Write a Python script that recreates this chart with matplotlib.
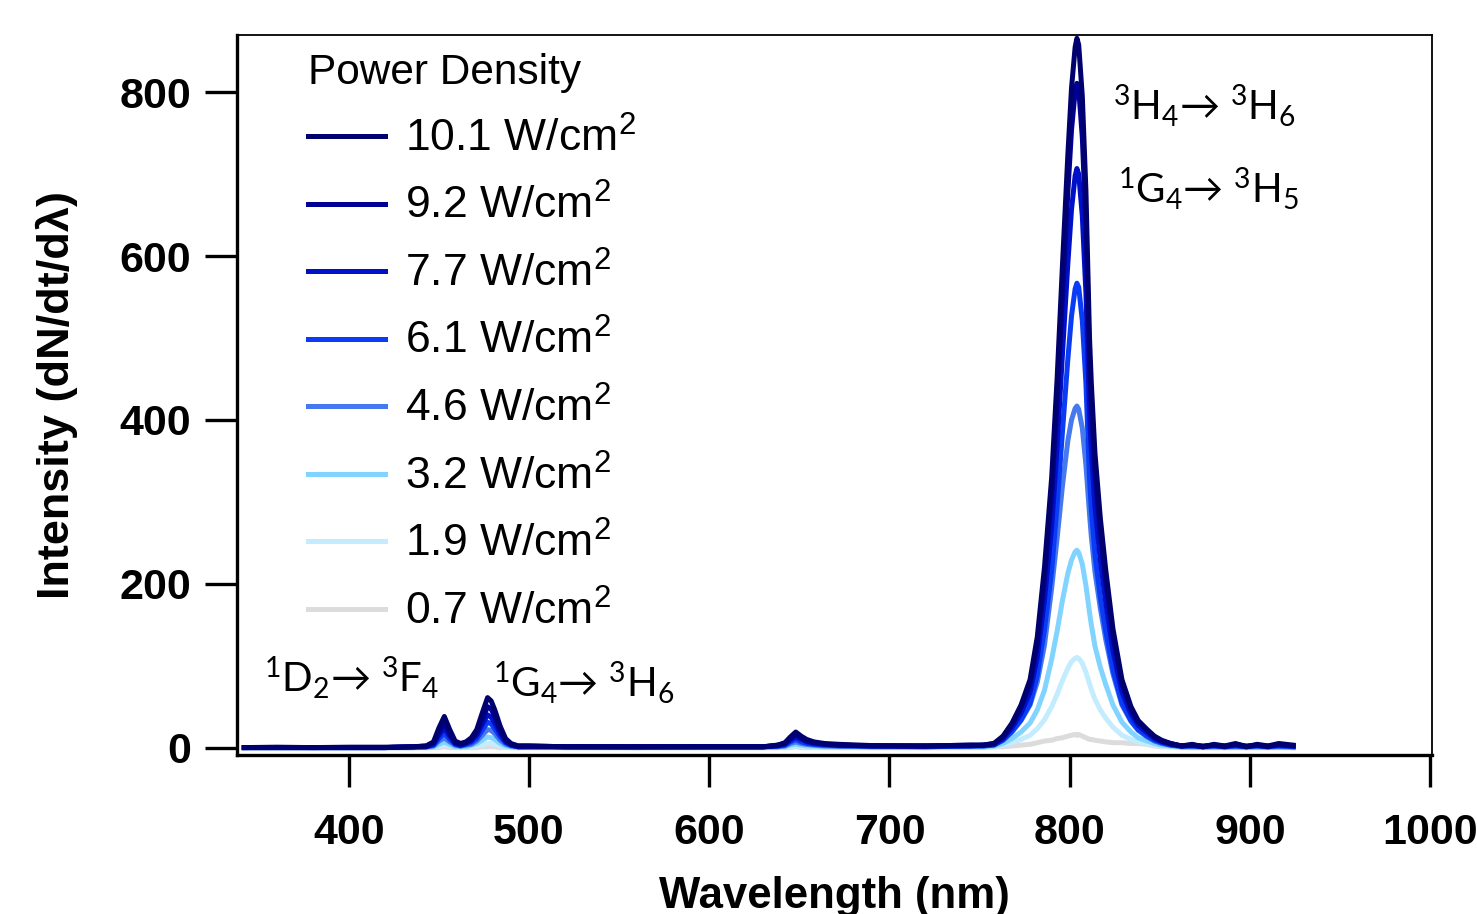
import matplotlib
matplotlib.use("Agg")
import matplotlib.pyplot as plt

plt.rcParams["font.family"] = ["Liberation Sans", "DejaVu Sans"]
plt.rcParams["mathtext.fontset"] = "custom"
plt.rcParams["mathtext.default"] = "regular"
plt.rcParams["mathtext.fallback"] = "stixsans"

# wavelength grid (nm)
wavelength = [
    342, 360, 380, 400, 420,
    436, 443, 447, 450, 453, 456, 459, 462, 465, 468, 471, 474, 477, 479, 481, 484, 487, 490, 494,
    500, 520, 560, 600, 630, 638, 642, 645, 648, 651, 654, 658, 664, 672, 690, 720, 745,
    752, 758, 763, 768, 773, 778, 782, 786, 790, 793, 796, 799, 801, 803, 804, 805, 807, 809,
    811, 812, 814, 817, 820, 824, 829, 834, 838, 843, 847, 851, 856, 862,
    868, 874, 880, 886, 892, 898, 904, 910, 916, 924,
]

i_10p1 = [
    0, 0.5, 0, 0.5, 0.5,
    1, 2, 7, 24, 38, 22, 8, 5, 7, 12, 22, 42, 61, 57, 46, 26, 11, 5, 2,
    2, 1, 1, 1, 1, 3, 6, 13, 19, 14, 10, 7, 5, 4, 2.5, 2, 3,
    3, 5, 14, 30, 52, 83, 135, 220, 330, 450, 590, 725, 805, 855, 866, 858, 795, 680,
    500, 445, 360, 280, 217, 145, 83, 50, 33, 22, 14, 9, 5, 2,
    4, 1, 4, 2, 5, 1, 4, 2, 5, 3,
]
i_9p2 = [
    0, 0, 0, 0, 0,
    1, 2, 6, 19, 30, 17, 6, 4, 6, 10, 18, 34, 50, 47, 38, 21, 9, 4, 2,
    2, 1, 1, 1, 1, 3, 5, 11, 16, 12, 8, 6, 4, 3, 2, 2, 3,
    3, 5, 13, 28, 49, 78, 126, 206, 309, 422, 553, 679, 754, 801, 811, 804, 745, 637,
    469, 417, 337, 262, 203, 136, 78, 47, 31, 21, 13, 8, 5, 2,
    3, 2, 3, 1, 4, 2, 3, 1, 4, 2,
]
i_7p7 = [
    0, 0, 0, 0, 0,
    1, 1, 4, 15, 24, 14, 5, 3, 5, 8, 15, 28, 40, 37, 30, 17, 7, 3, 1,
    1, 1, 1, 1, 1, 2, 4, 9, 13, 10, 7, 5, 4, 3, 2, 2, 2,
    3, 4, 11, 24, 42, 68, 110, 180, 269, 367, 481, 592, 657, 698, 707, 700, 649, 555,
    408, 363, 294, 228, 177, 118, 68, 41, 27, 18, 11, 7, 4, 2,
    3, 1, 3, 2, 3, 1, 3, 2, 3, 2,
]
i_6p1 = [
    0, 0, 0, 0, 0,
    1, 1, 3, 11, 18, 10, 4, 2, 4, 6, 11, 21, 31, 29, 23, 13, 6, 3, 1,
    1, 1, 1, 1, 1, 2, 3, 7, 10, 7, 5, 4, 3, 2, 2, 1, 2,
    2, 3, 9, 20, 34, 54, 88, 144, 216, 295, 386, 475, 527, 560, 567, 562, 521, 445,
    328, 291, 236, 183, 142, 95, 54, 33, 22, 14, 9, 6, 3, 2,
    2, 1, 2, 1, 2, 1, 2, 1, 2, 1,
]
i_4p6 = [
    0, 0, 0, 0, 0,
    0, 1, 2, 8, 12, 7, 3, 2, 3, 4, 8, 15, 22, 21, 17, 9, 4, 2, 1,
    1, 1, 0, 1, 1, 1, 2, 5, 7, 5, 4, 3, 2, 2, 1, 1, 2,
    2, 4, 9, 19, 33, 52, 80, 125, 195, 255, 320, 375, 400, 414, 417, 413, 390, 345,
    285, 258, 215, 170, 132, 90, 52, 32, 21, 13, 8, 5, 3, 1,
    1, 1, 1, 1, 1, 1, 1, 1, 1, 1,
]
i_3p2 = [
    0, 0, 0, 0, 0,
    0, 0, 1, 4, 7, 4, 1, 1, 1, 3, 5, 9, 13, 12, 10, 5, 2, 1, 0,
    1, 0, 0, 0, 0, 1, 1, 3, 4, 3, 2, 2, 1, 1, 1, 1, 1,
    1, 2, 5, 11, 19, 30, 46, 70, 108, 142, 180, 213, 229, 239, 241, 238, 224, 198,
    165, 150, 124, 98, 77, 52, 31, 19, 12, 8, 5, 3, 2, 1,
    1, 0, 1, 0, 1, 0, 1, 0, 1, 0,
]
i_1p9 = [
    0, 0, 0, 0, 0,
    0, 0, 1, 2, 3, 2, 1, 0, 1, 1, 2, 3, 5, 5, 4, 2, 1, 0, 0,
    0, 0, 0, 0, 0, 0, 1, 1, 2, 1, 1, 1, 1, 0, 0, 0, 1,
    1, 1, 3, 6, 10, 15, 23, 34, 50, 65, 82, 97, 105, 109, 110, 109, 103, 92,
    78, 71, 59, 46, 36, 25, 15, 10, 7, 5, 3, 2, 1, 1,
    0, 0, 0, 0, 0, 0, 0, 0, 0, 0,
]
i_0p7 = [
    0, 0, 0, 0, 0,
    0, 0, 0, 0, 1, 0, 0, 0, 0, 0, 0, 1, 1, 1, 1, 0, 0, 0, 0,
    0, 0, 0, 0, 0, 0, 0, 0, 1, 0, 0, 0, 0, 0, 0, 0, 0,
    0, 1, 1, 2, 3, 4, 6, 8, 9, 11, 12, 14, 15, 16, 15, 16, 14, 12,
    10, 10, 9, 8, 7, 6, 6, 5, 5, 4, 2, 1, 1, 0,
    0, 0, 0, 0, 0, 0, 0, 0, 0, 0,
]

power_labels = ["10.1", "9.2", "7.7", "6.1", "4.6", "3.2", "1.9", "0.7"]
intensities = [i_10p1, i_9p2, i_7p7, i_6p1, i_4p6, i_3p2, i_1p9, i_0p7]
colors = ["#00006e", "#000092", "#0010c8", "#0a3cf5", "#4678f0", "#80d4ff", "#c4ecff", "#dcdcdc"]

fig = plt.figure(figsize=(14.77, 9.14), dpi=100)
ax = fig.add_axes([0.1605, 0.174, 0.809, 0.7877])

# draw weakest first so the strongest sits on top
handles = []
for label, y, c in reversed(list(zip(power_labels, intensities, colors))):
    (ln,) = ax.plot(wavelength, y, color=c, linewidth=3.6, solid_joinstyle="round",
                    label=f"{label} W/cm$^{{2}}$")
    handles.append(ln)
handles = handles[::-1]

ax.set_xlim(338, 1001)
ax.set_ylim(-9, 870)
ax.set_xticks([400, 500, 600, 700, 800, 900, 1000])
ax.set_yticks([0, 200, 400, 600, 800])

for side in ["left", "bottom"]:
    ax.spines[side].set_linewidth(2.4)
for side in ["top", "right"]:
    ax.spines[side].set_linewidth(1.3)

ax.tick_params(axis="y", direction="out", length=23, width=2.4, pad=10, labelsize=31)
ax.tick_params(axis="x", direction="out", length=23, width=2.4, pad=19, labelsize=31)
for t in ax.get_xticklabels() + ax.get_yticklabels():
    t.set_fontweight("bold")

ax.set_xlabel("Wavelength (nm)", fontsize=31.5, fontweight="bold", labelpad=16)
ax.set_ylabel("Intensity (dN/dt/d\u03bb)", fontsize=32.5, fontweight="bold", labelpad=30)

leg = ax.legend(handles=handles, title="Power Density", loc="upper left",
                bbox_to_anchor=(0.059, 0.975), frameon=False, fontsize=32,
                title_fontsize=30.5, handlelength=1.75, handletextpad=0.45,
                labelspacing=0.55, borderpad=0, borderaxespad=0, alignment="left")

ann_font = dict(fontsize=29, family=["Lato", "DejaVu Sans"], ha="left", va="baseline")
ax.text(353, 68, "$^{1}$D$_{2}$\u2192 $^{3}$F$_{4}$", **ann_font)
ax.text(480, 62, "$^{1}$G$_{4}$\u2192 $^{3}$H$_{6}$", **ann_font)
ax.text(824, 766, "$^{3}$H$_{4}$\u2192 $^{3}$H$_{6}$", **ann_font)
ax.text(827, 665, "$^{1}$G$_{4}$\u2192 $^{3}$H$_{5}$", **ann_font)

fig.savefig("out.png", dpi=100)
